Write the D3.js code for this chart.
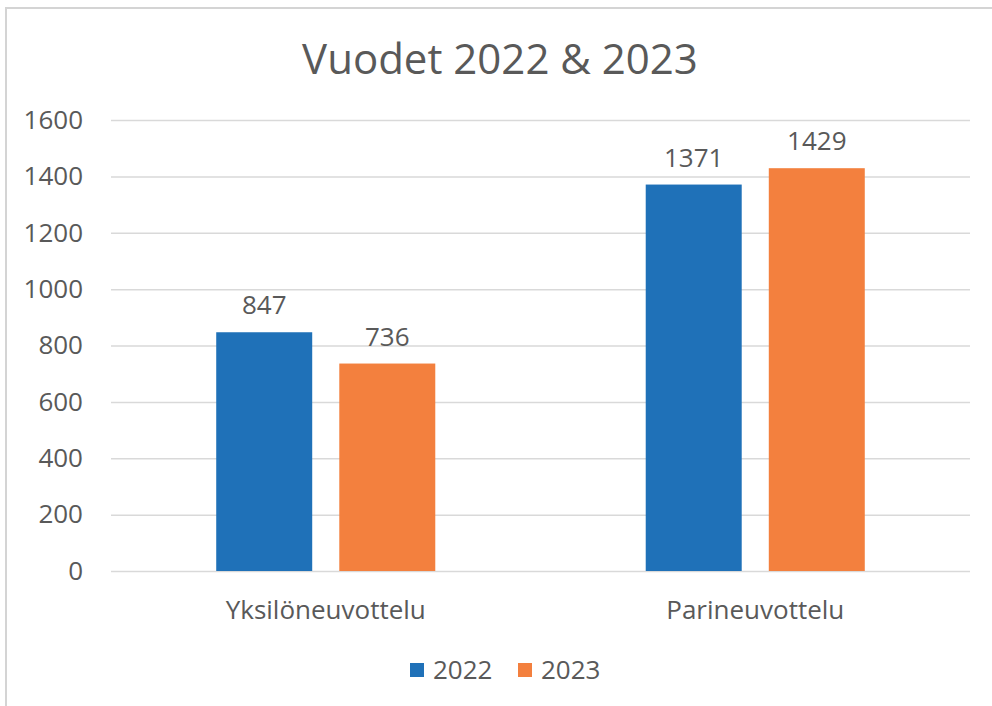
<!DOCTYPE html>
<html>
<head>
<meta charset="utf-8">
<script src="https://cdn.jsdelivr.net/npm/d3@7"></script>
<style>
  body { margin: 0; background: #fff; }
  text { font-family: "Open Sans", sans-serif; fill: #595959; }
</style>
</head>
<body>
<div id="chart"></div>
<script>
// data
const categories = ["Yksilöneuvottelu", "Parineuvottelu"];
const years = ["2022", "2023"];
const values2022 = [847, 1371];
const values2023 = [736, 1429];
const yTicks = [0, 200, 400, 600, 800, 1000, 1200, 1400, 1600];

const width = 992, height = 706;
const margin = { top: 120, right: 22, bottom: 135, left: 111 };
const colors = { "2022": "#1f71b8", "2023": "#f3803e" };

const rows = categories.map((c, i) => ({
  category: c,
  vals: [{ year: "2022", value: values2022[i] }, { year: "2023", value: values2023[i] }]
}));

const svg = d3.select("#chart").append("svg")
  .attr("width", width)
  .attr("height", height);

// chart frame (cropped on right / bottom like the screenshot)
svg.append("path")
  .attr("d", `M6,${height + 2} V8 H${width + 2}`)
  .attr("fill", "none")
  .attr("stroke", "#d4d4d4")
  .attr("stroke-width", 2);

/** SCALES */
const x0 = d3.scaleBand()
  .domain(categories)
  .range([margin.left, width - margin.right])
  .padding(0);

const x1 = d3.scaleBand()
  .domain(years)
  .range([0, x0.bandwidth()])
  .paddingInner(0.22)
  .paddingOuter(0.855);

const y = d3.scaleLinear()
  .domain([0, 1600])
  .range([height - margin.bottom, margin.top]);

// gridlines + y labels
const yAxis = d3.axisLeft(y)
  .tickValues(yTicks)
  .tickFormat(d3.format("d"))
  .tickSize(-(width - margin.right - margin.left))
  .tickPadding(28);

svg.append("g")
  .attr("transform", `translate(${margin.left},0)`)
  .call(yAxis)
  .call(g => g.select(".domain").remove())
  .call(g => g.selectAll("line").attr("stroke", "#d9d9d9").attr("stroke-width", 1.5))
  .call(g => g.selectAll("text")
    .attr("fill", "#595959")
    .style("font-size", "26px")
    .style("font-family", "'Open Sans', sans-serif"));

// bars
const groups = svg.selectAll(".grp")
  .data(rows)
  .join("g")
  .attr("class", "grp")
  .attr("transform", d => `translate(${x0(d.category)},0)`);

groups.selectAll("rect")
  .data(d => d.vals)
  .join("rect")
  .attr("x", d => x1(d.year))
  .attr("y", d => y(d.value))
  .attr("width", x1.bandwidth())
  .attr("height", d => y(0) - y(d.value))
  .attr("fill", d => colors[d.year]);

// value labels
groups.selectAll(".label")
  .data(d => d.vals)
  .join("text")
  .attr("class", "label")
  .attr("x", d => x1(d.year) + x1.bandwidth() / 2)
  .attr("y", d => y(d.value) - 18)
  .attr("text-anchor", "middle")
  .style("font-size", "26px")
  .text(d => d.value);

// category labels
const xAxis = d3.axisBottom(x0).tickSize(0).tickPadding(0);
svg.append("g")
  .attr("transform", `translate(0,${y(0)})`)
  .call(xAxis)
  .call(g => g.select(".domain").remove())
  .call(g => g.selectAll("text")
    .attr("dy", null)
    .attr("y", 48)
    .attr("fill", "#595959")
    .style("font-size", "26px")
    .style("font-family", "'Open Sans', sans-serif"));

// title
svg.append("text")
  .attr("x", 500)
  .attr("y", 74)
  .attr("text-anchor", "middle")
  .style("font-size", "42px")
  .text("Vuodet 2022 & 2023");

// legend
const legend = svg.append("g").attr("transform", "translate(410,670)");
const item = legend.selectAll("g")
  .data(years)
  .join("g")
  .attr("transform", (d, i) => `translate(${i * 108},0)`);

item.append("rect")
  .attr("x", 0)
  .attr("y", -7)
  .attr("width", 14)
  .attr("height", 14)
  .attr("fill", d => colors[d]);

item.append("text")
  .attr("x", 23)
  .attr("y", 9)
  .style("font-size", "26px")
  .text(d => d);
</script>
</body>
</html>
